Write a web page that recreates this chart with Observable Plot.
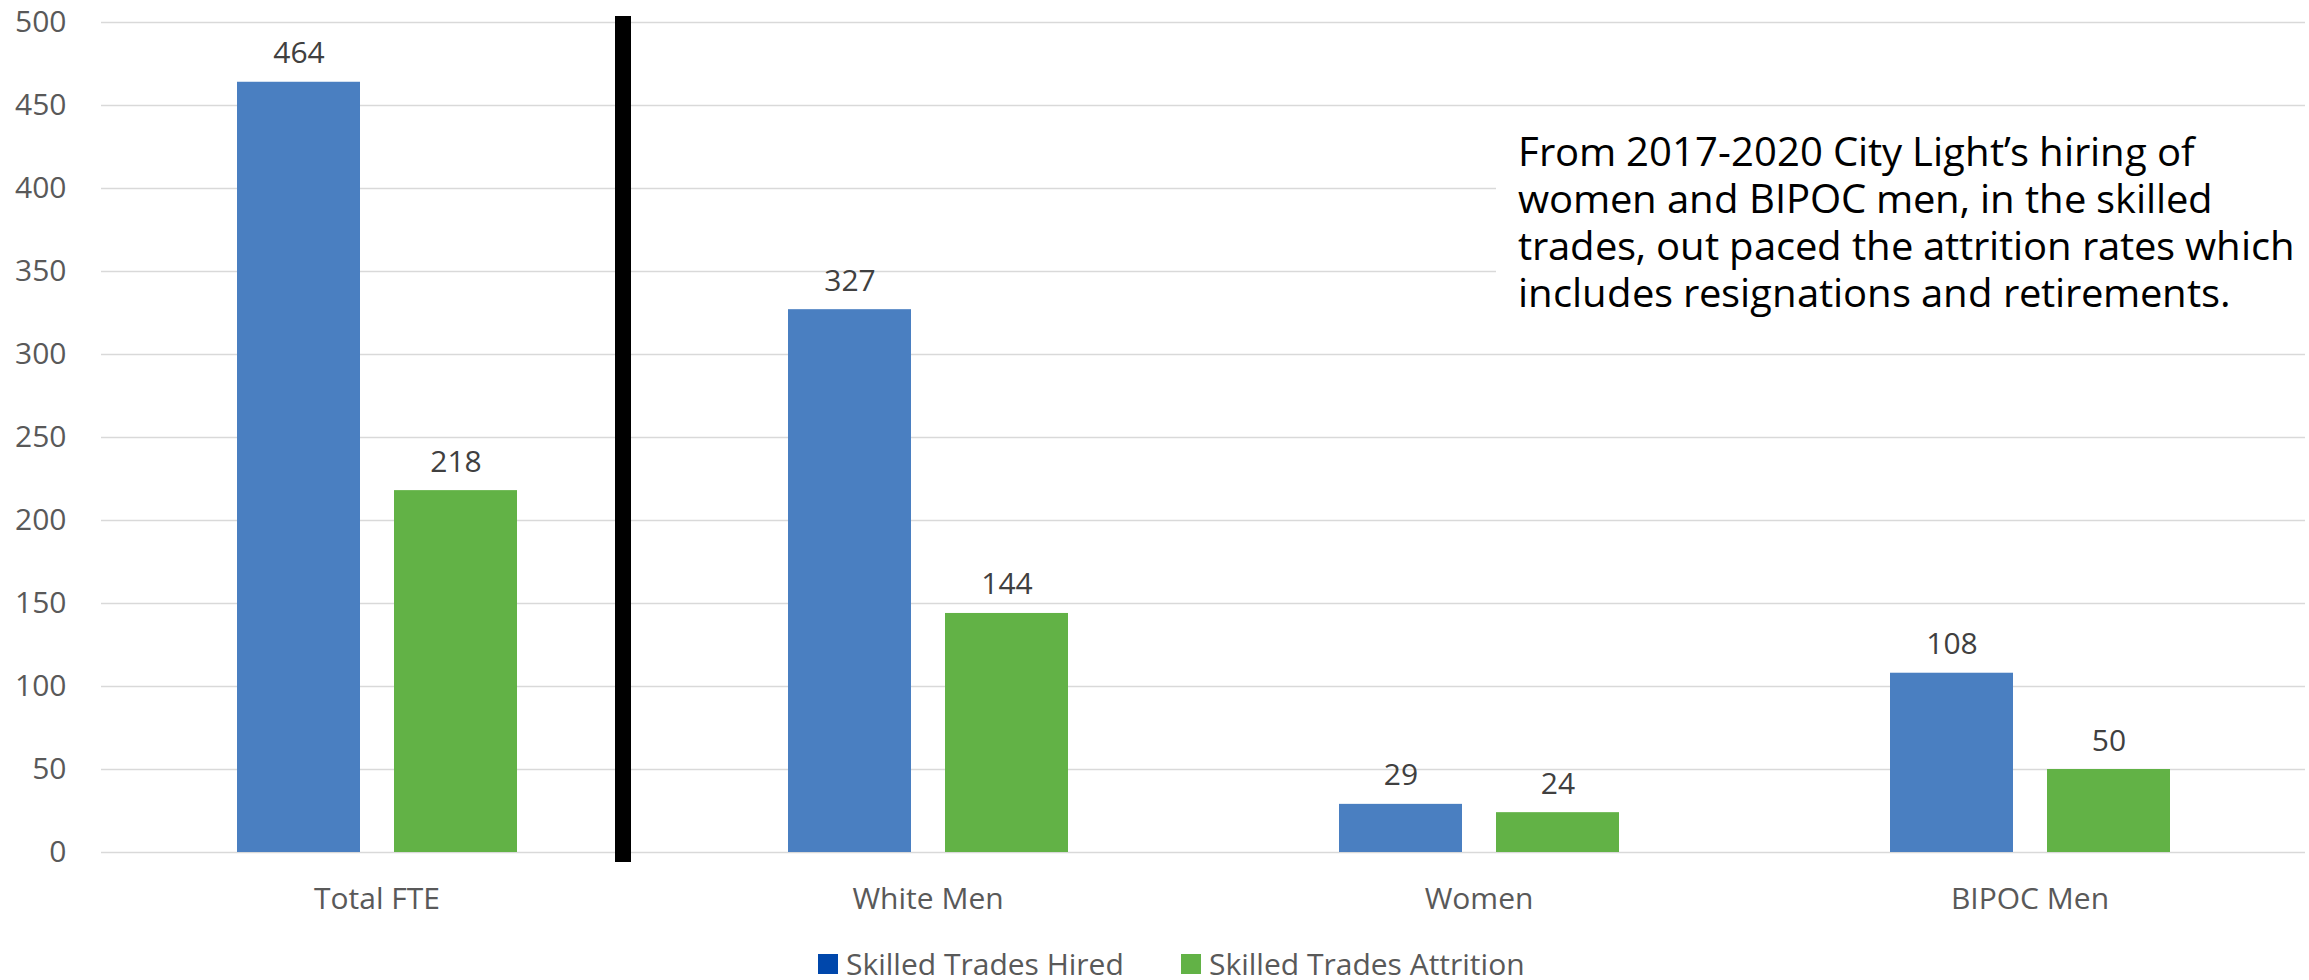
<!DOCTYPE html>
<html><head><meta charset="utf-8">
<script src="https://cdn.jsdelivr.net/npm/d3@7"></script>
<script src="https://cdn.jsdelivr.net/npm/@observablehq/plot@0.6"></script>
<style>
@font-face{font-family:"NoteSans";src:local("Open Sans"),local("OpenSans-Regular"),local("Open Sans Regular");ascent-override:95%;descent-override:22%;line-gap-override:0%;}
body{margin:0;background:#fff;font-family:"Open Sans",sans-serif;}
#wrap{position:relative;width:2309px;height:980px;}
#note{position:absolute;left:1496px;top:110px;width:813px;height:235px;background:#fff;box-sizing:border-box;padding:18px 0 0 22px;color:#000;font-family:"NoteSans","Open Sans",sans-serif;font-size:40px;line-height:47px;white-space:nowrap;}
.leg{position:absolute;top:947px;height:34px;display:flex;align-items:center;color:#595959;font-size:30px;line-height:34px;white-space:nowrap;}
.sw{width:20px;height:20px;margin-right:8px;display:inline-block;}
</style></head><body>
<div id="wrap"><div id="chart"></div><div id="note"></div></div>
<script>
const categories = ["Total FTE", "White Men", "Women", "BIPOC Men"];
const series = ["Skilled Trades Hired", "Skilled Trades Attrition"];
const hired = [464, 327, 29, 108];
const attrition = [218, 144, 24, 50];
const yTicks = [0, 50, 100, 150, 200, 250, 300, 350, 400, 450, 500];
const barColors = ["#4a7fc1", "#62b246"];
const legendColors = ["#0047ab", "#62b246"];
const dividerAfter = ["Total FTE"];
const noteLines = [
  "From 2017-2020 City Light\u2019s hiring of",
  "women and BIPOC men, in the skilled",
  "trades, out paced the attrition rates which",
  "includes resignations and retirements."
];
const legendLeft = [818, 1181];

const data = categories.flatMap((c, i) => [
  {category: c, series: series[0], value: hired[i]},
  {category: c, series: series[1], value: attrition[i]}
]);

const chart = Plot.plot({
  width: 2309,
  height: 935,
  marginTop: 22,
  marginBottom: 83,
  marginLeft: 100,
  marginRight: 4,
  style: {fontFamily: "Open Sans", fontSize: "30px", color: "#595959", background: "#fff", overflow: "visible"},
  fx: {domain: categories, padding: 0, label: null},
  x: {domain: series, axis: null, paddingInner: 0.2166, paddingOuter: 0.863},
  y: {domain: [0, 500], label: null},
  color: {domain: series, range: barColors},
  marks: [
    Plot.gridY(yTicks, {stroke: "#d9d9d9", strokeOpacity: 1, strokeWidth: 1.5}),
    Plot.axisY(yTicks, {tickSize: 0, tickPadding: 35, fill: "#595959", fontSize: 30, label: null}),
    Plot.axisFx({anchor: "bottom", tickSize: 0, tickPadding: 35, fill: "#595959", fontSize: 30, label: null}),
    Plot.barY(data, {fx: "category", x: "series", y: "value", fill: "series"}),
    Plot.text(data, {fx: "category", x: "series", y: "value", text: d => String(d.value), lineAnchor: "bottom", dy: -19, fill: "#404040", fontSize: 30}),
    Plot.ruleX(dividerAfter, {fx: d => d, x: () => series[1], y1: 500, y2: 0, dx: 167, stroke: "#000", strokeWidth: 16, insetTop: -6, insetBottom: -10})
  ]
});
document.getElementById("chart").appendChild(chart);

const note = document.getElementById("note");
noteLines.forEach(t => { const d = document.createElement("div"); d.textContent = t; note.appendChild(d); });

const wrap = document.getElementById("wrap");
series.forEach((s, i) => {
  const item = document.createElement("div");
  item.className = "leg";
  item.style.left = legendLeft[i] + "px";
  const sw = document.createElement("span");
  sw.className = "sw";
  sw.style.background = legendColors[i];
  const tx = document.createElement("span");
  tx.textContent = s;
  item.appendChild(sw); item.appendChild(tx);
  wrap.appendChild(item);
});
</script>
</body></html>
